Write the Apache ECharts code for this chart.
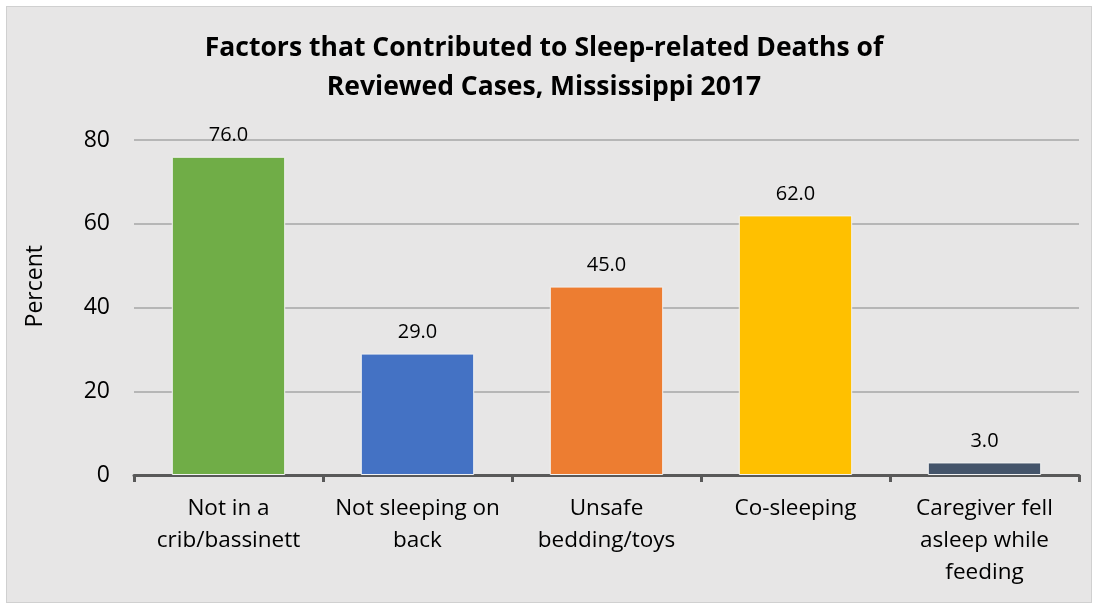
<!DOCTYPE html>
<html>
<head>
<meta charset="utf-8">
<script src="https://cdn.jsdelivr.net/npm/echarts@6/dist/echarts.min.js"></script>
<style>
html,body{margin:0;padding:0;background:#fff;}
#main{position:absolute;left:6px;top:6px;width:1086px;height:597px;background:#e7e6e6;border:1px solid #d0d0d0;box-sizing:border-box;}
</style>
</head>
<body>
<div id="main"></div>
<script>
var categories=['Not in a\ncrib/bassinett','Not sleeping on\nback','Unsafe\nbedding/toys','Co-sleeping','Caregiver fell\nasleep while\nfeeding'];
var values=[76.0,29.0,45.0,62.0,3.0];
var barColors=['#70ad47','#4472c4','#ed7d31','#ffc000','#44546a'];
var yTicks=[0,20,40,60,80];

var FONT='"Open Sans", "Liberation Sans", sans-serif';
var myChart=echarts.init(document.getElementById('main'));
var data=[];
for(var i=0;i<values.length;i++){
	data.push({value:values[i],itemStyle:{color:barColors[i]}});
}
var option={
	animation:false,
	title:{
		text:'Factors that Contributed to Sleep-related Deaths of\nReviewed Cases, Mississippi 2017',
		left:532,
		top:17,
		textAlign:'center',
		textStyle:{fontFamily:FONT,fontSize:26.5,fontWeight:'bold',color:'#000',lineHeight:39}
	},
	graphic:[{
		type:'text',
		left:17,
		top:238,
		rotation:Math.PI/2,
		style:{text:'Percent',font:'23px '+FONT,fill:'#000'}
	}],
	grid:{left:127,right:12,top:133,bottom:127,containLabel:false},
	xAxis:{
		type:'category',
		data:categories,
		axisLine:{lineStyle:{color:'#595959',width:3}},
		axisTick:{show:true,length:7,lineStyle:{color:'#595959',width:3}},
		axisLabel:{fontFamily:FONT,fontSize:22.5,color:'#000',lineHeight:32,margin:18,interval:0}
	},
	yAxis:{
		type:'value',
		min:0,
		max:80,
		interval:20,
		axisLine:{show:false},
		axisTick:{show:false},
		axisLabel:{fontFamily:FONT,fontSize:23,color:'#000',margin:24},
		splitLine:{lineStyle:{color:'#a6a6a6',width:1.5}}
	},
	series:[{
		type:'bar',
		data:data,
		barWidth:'60%',
		itemStyle:{borderColor:'#f2f2f2',borderWidth:1},
		label:{show:true,position:'top',distance:11,fontFamily:FONT,fontSize:20,color:'#000',
			formatter:function(p){return p.value.toFixed(1);}}
	}]
};
myChart.setOption(option);
</script>
</body>
</html>
